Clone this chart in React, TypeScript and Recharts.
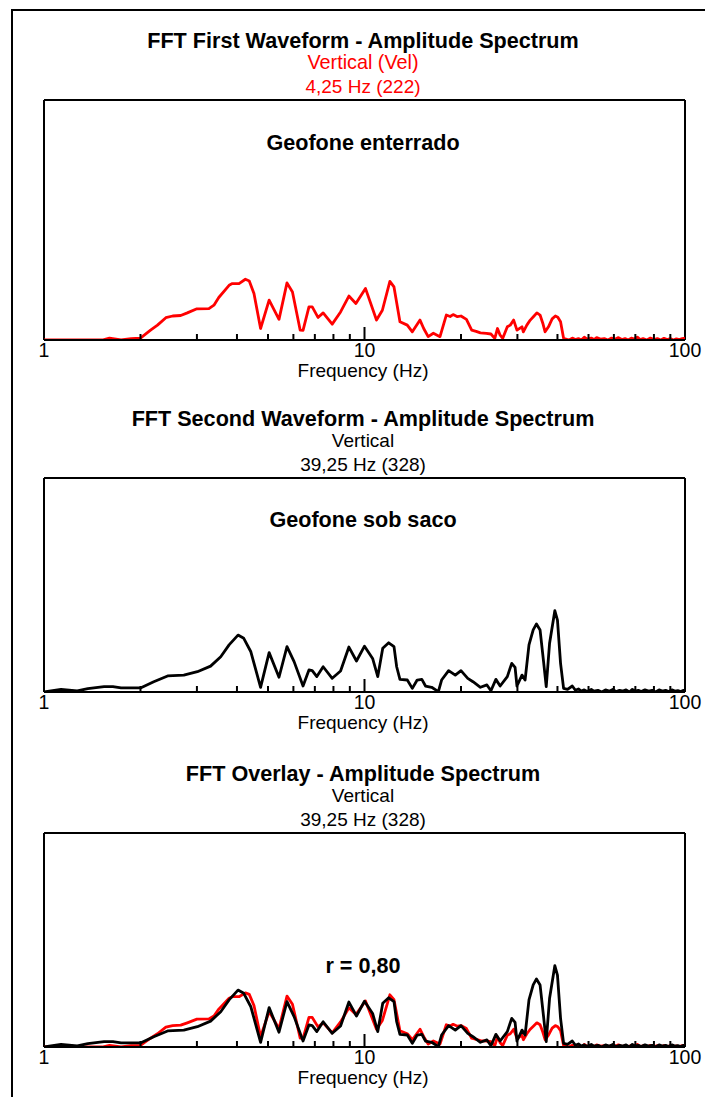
import { LineChart, Line, XAxis, YAxis, ReferenceLine } from "recharts";

const FONT = '"Liberation Sans", Arial, Helvetica, sans-serif';
const RED = "#ff0000";
const BLACK = "#000000";

// First waveform spectrum (vertical velocity), amplitude as fraction of plot height
const redFreq = [
  1.0, 1.52, 1.6, 1.74, 1.87, 2.0, 2.15, 2.26, 2.4, 2.52, 2.67, 2.8, 3.0, 3.27, 3.39, 3.51, 3.78, 3.87, 4.06,
  4.25, 4.37, 4.52, 4.74, 5.04, 5.41, 5.73, 5.96, 6.3, 6.43, 6.71, 6.87, 7.16, 7.43, 7.93, 8.42, 8.94, 9.4,
  10.07, 10.9, 11.37, 12.0, 12.36, 12.9, 13.6, 14.1, 14.9, 15.3, 15.8, 16.4, 17.2, 18.0, 18.5, 18.9, 19.5,
  20.0, 20.8, 21.6, 22.3, 23.0, 24.0, 24.8, 25.5, 26.0, 26.5, 27.0, 27.9, 28.5, 29.2, 29.9, 31.0, 31.3, 32.1,
  32.9, 33.7, 34.5, 35.3, 36.0, 36.6, 37.5, 38.5, 39.4, 40.1, 40.9, 41.8, 42.5, 43.5, 44.5, 45.5, 46.5, 47.5,
  48.5, 49.5, 51, 52, 53, 54.5, 56, 57.5, 59, 60.5, 62, 63.5, 65, 66.5, 68, 69.5, 71, 72.5, 74, 76, 78, 80,
  82, 84, 86, 88, 90, 92, 94, 96, 98, 100,
];
const redAmp = [
  0, 0, 0.008, 0.0, 0.006, 0.008, 0.041, 0.062, 0.093, 0.1, 0.102, 0.113, 0.13, 0.131, 0.145, 0.177, 0.228, 0.235, 0.235,
  0.253, 0.246, 0.194, 0.048, 0.166, 0.086, 0.238, 0.2, 0.041, 0.04, 0.138, 0.138, 0.094, 0.113, 0.066, 0.117, 0.183, 0.152,
  0.215, 0.083, 0.124, 0.244, 0.221, 0.076, 0.062, 0.034, 0.083, 0.048, 0.014, 0.028, 0.014, 0.104, 0.098, 0.106, 0.097,
  0.1, 0.086, 0.041, 0.036, 0.03, 0.028, 0.025, 0.007, 0.048, 0.02, 0.007, 0.055, 0.062, 0.083, 0.041, 0.055, 0.034, 0.062,
  0.083, 0.098, 0.113, 0.104, 0.07, 0.034, 0.055, 0.088, 0.1, 0.095, 0.076, 0.007, 0.004, 0.0, 0.008, 0.002, 0.006, 0.0,
  0.012, 0.004, 0.008, 0.002, 0.01, 0.004, 0.006, 0.0, 0.008, 0.003, 0.01, 0.002, 0.006, 0.0, 0.008, 0.004, 0.012, 0.002, 0.006, 0.0, 0.008, 0.002,
  0.006, 0.0, 0.007, 0.002, 0.006, 0.0, 0.005, 0.002, 0.006, 0.008,
];

// Second waveform spectrum (vertical)
const blackFreq = [
  1.0, 1.13, 1.27, 1.37, 1.54, 1.64, 1.74, 2.0, 2.2, 2.43, 2.73, 3.01, 3.31, 3.56, 3.78, 4.03, 4.2, 4.42, 4.58,
  4.74, 5.04, 5.41, 5.73, 6.03, 6.43, 6.71, 6.87, 7.1, 7.43, 7.93, 8.42, 8.94, 9.44, 10.0, 10.6, 11.0, 11.4,
  11.9, 12.36, 12.6, 12.9, 13.6, 14.1, 14.6, 15.1, 15.5, 16.2, 17.0, 17.4, 18.3, 19.2, 20.0, 21.0, 21.8, 23.0,
  24.1, 24.8, 25.7, 26.5, 27.9, 28.8, 29.5, 29.9, 31.0, 31.7, 32.6, 33.6, 34.4, 35.3, 36.2, 36.9, 37.8, 39.25,
  40.0, 40.9, 41.8, 43, 44.5, 45.5, 46.5, 47.5, 48.5, 49.5, 51, 52, 53.5, 55, 56.5, 58, 59.5, 61, 62.5, 64,
  65.5, 67, 68.5, 70, 71.5, 73, 75, 77, 79, 81, 83, 85, 87, 89, 91, 93, 95, 97, 99, 100,
];
const blackAmp = [
  0, 0.012, 0.005, 0.016, 0.025, 0.025, 0.019, 0.019, 0.048, 0.075, 0.079, 0.095, 0.121, 0.165, 0.22, 0.266, 0.251, 0.188, 0.103,
  0.022, 0.184, 0.069, 0.212, 0.142, 0.028, 0.103, 0.1, 0.072, 0.118, 0.064, 0.098, 0.21, 0.145, 0.214, 0.157, 0.072, 0.204,
  0.23, 0.212, 0.118, 0.059, 0.056, 0.017, 0.056, 0.059, 0.028, 0.022, 0.002, 0.056, 0.1, 0.079, 0.1, 0.064, 0.048, 0.022,
  0.033, 0.006, 0.059, 0.028, 0.072, 0.134, 0.115, 0.028, 0.079, 0.056, 0.22, 0.29, 0.318, 0.29, 0.142, 0.025, 0.228, 0.38,
  0.336, 0.134, 0.017, 0.012, 0.028, 0.008, 0.014, 0.004, 0.01, 0.002, 0.012, 0.004, 0.008, 0.0, 0.01, 0.004, 0.012, 0.002, 0.008, 0.004,
  0.01, 0.0, 0.012, 0.004, 0.008, 0.002, 0.01, 0.004, 0.008, 0.0, 0.01, 0.004, 0.008, 0.002, 0.01, 0.004, 0.006, 0.002, 0.008, 0.004,
];

const FREQ_TICKS = [1, 2, 3, 4, 5, 6, 7, 8, 9, 10, 20, 30, 40, 50, 60, 70, 80, 90, 100];
const TICK_LABELS: Record<number, string> = { 1: "1", 10: "10", 100: "100" };

const toSeries = (f: number[], a: number[]) => f.map((v, i) => ({ f: v, a: a[i] }));
const firstWave = toSeries(redFreq, redAmp);
const secondWave = toSeries(blackFreq, blackAmp);

const PAGE_W = 705;
const PAGE_H = 1097;
const PLOT_LEFT = 44;
const PLOT_RIGHT = 685;
const PAD_TOP = 10;
const AXIS_H = 40;
const PAD_BOTTOM = 5;
const CENTER_X = 363;
const TITLE_SIZE = 21.6;

type Series = { data: { f: number; a: number }[]; color: string };
type Caption = { text: string; dy: number; color?: string; bold?: boolean; size?: number };

function Text({ text, cy, color = BLACK, bold = false, size = 19 }: { text: string; cy: number; color?: string; bold?: boolean; size?: number }) {
  return (
    <div
      style={{
        position: "absolute",
        left: CENTER_X - 250,
        width: 500,
        top: cy - size / 2,
        lineHeight: `${size}px`,
        fontSize: size,
        fontWeight: bold ? 700 : 400,
        fontFamily: FONT,
        color,
        textAlign: "center",
        whiteSpace: "nowrap",
      }}
    >
      {text}
    </div>
  );
}

function Spectrum({ top, height, series, captions }: { top: number; height: number; series: Series[]; captions: Caption[] }) {
  const axisY = PAD_TOP + height;
  const bottom = top + height;

  // minor ticks point into the plot, labels only on the decades
  const FreqTick = (p: any) => {
    const v = p.payload.value;
    const len = v === 10 ? 13 : 6;
    return (
      <g>
        {v !== 1 && v !== 100 && (
          <line x1={p.x} x2={p.x} y1={axisY} y2={axisY - len} stroke={BLACK} strokeWidth={2} />
        )}
        {TICK_LABELS[v] && (
          <text x={p.x} y={axisY + 16.5} textAnchor="middle" fontSize={19.5} fontFamily={FONT} fill={BLACK}>
            {TICK_LABELS[v]}
          </text>
        )}
      </g>
    );
  };

  return (
    <>
      {captions.map((c, i) => (
        <Text key={i} text={c.text} cy={top + c.dy} color={c.color} bold={c.bold} size={c.size} />
      ))}
      <div style={{ position: "absolute", left: 0, top: top - PAD_TOP }}>
        <LineChart
          width={PAGE_W}
          height={PAD_TOP + height + AXIS_H + PAD_BOTTOM}
          margin={{ top: PAD_TOP, right: PAGE_W - PLOT_RIGHT, bottom: PAD_BOTTOM, left: PLOT_LEFT }}
        >
          <XAxis
            dataKey="f"
            type="number"
            scale="log"
            domain={[1, 100]}
            ticks={FREQ_TICKS}
            interval={0}
            allowDataOverflow
            tick={FreqTick}
            tickLine={false}
            tickSize={0}
            axisLine={{ stroke: BLACK, strokeWidth: 2 }}
            height={AXIS_H}
          />
          <YAxis type="number" domain={[0, 1]} allowDataOverflow hide />
          <ReferenceLine y={1} stroke={BLACK} strokeWidth={2} />
          <ReferenceLine x={1} stroke={BLACK} strokeWidth={2} />
          <ReferenceLine x={100} stroke={BLACK} strokeWidth={2} />
          {series.map((s, i) => (
            <Line
              key={i}
              data={s.data}
              dataKey="a"
              type="linear"
              stroke={s.color}
              strokeWidth={2.8}
              strokeLinejoin="round"
              dot={false}
              activeDot={false}
              isAnimationActive={false}
            />
          ))}
        </LineChart>
      </div>
      <Text text="Frequency (Hz)" cy={bottom + 30} />
    </>
  );
}

export default function App() {
  return (
    <div
      style={{
        position: "fixed",
        left: 0,
        top: 0,
        width: PAGE_W,
        height: PAGE_H,
        overflow: "hidden",
        background: "#fff",
      }}
    >
      <div
        style={{
          position: "absolute",
          left: 11,
          top: 9,
          width: 740,
          height: 1140,
          border: `2px solid ${BLACK}`,
        }}
      />
      <Spectrum
        top={100}
        height={240}
        series={[{ data: firstWave, color: RED }]}
        captions={[
          { text: "FFT First Waveform - Amplitude Spectrum", dy: -59.5, bold: true, size: TITLE_SIZE },
          { text: "Vertical (Vel)", dy: -37.5, color: RED, size: 19.8 },
          { text: "4,25 Hz (222)", dy: -13.5, color: RED },
          { text: "Geofone enterrado", dy: 43, bold: true, size: TITLE_SIZE },
        ]}
      />
      <Spectrum
        top={478}
        height={214}
        series={[{ data: secondWave, color: BLACK }]}
        captions={[
          { text: "FFT Second Waveform - Amplitude Spectrum", dy: -59.5, bold: true, size: TITLE_SIZE },
          { text: "Vertical", dy: -37.5 },
          { text: "39,25 Hz (328)", dy: -13.5 },
          { text: "Geofone sob saco", dy: 42, bold: true, size: TITLE_SIZE },
        ]}
      />
      <Spectrum
        top={833}
        height={214}
        series={[
          { data: firstWave, color: RED },
          { data: secondWave, color: BLACK },
        ]}
        captions={[
          { text: "FFT Overlay - Amplitude Spectrum", dy: -59.5, bold: true, size: TITLE_SIZE },
          { text: "Vertical", dy: -37.5 },
          { text: "39,25 Hz (328)", dy: -13.5 },
          { text: "r = 0,80", dy: 133, bold: true, size: TITLE_SIZE },
        ]}
      />
    </div>
  );
}
